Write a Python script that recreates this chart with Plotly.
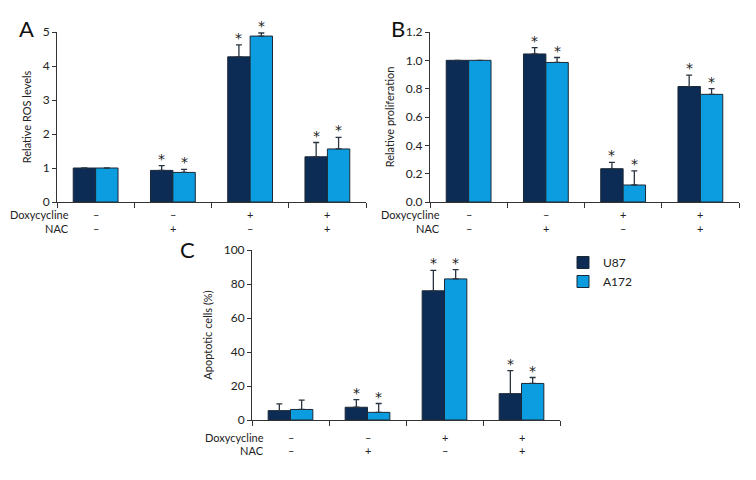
import plotly.graph_objects as go

# the page body keeps its default 8px margin, so the figure is drawn 8px in
OFF = 8
W, H = 756 - 2 * OFF, 480 - 2 * OFF
FONT = "Lato, Roboto, sans-serif"
DARK = "#0c2c55"
LIGHT = "#0b9de0"

series = ["U87", "A172"]
doxy = ["\u2013", "\u2013", "+", "+"]
nac = ["\u2013", "+", "\u2013", "+"]

# panel A - relative ROS levels
ros_u87 = [1.0, 0.93, 4.27, 1.33]
ros_u87_err = [0, 0.14, 0.35, 0.42]
ros_a172 = [1.0, 0.87, 4.88, 1.56]
ros_a172_err = [0, 0.09, 0.09, 0.34]
ros_star_u87 = [False, True, True, True]
ros_star_a172 = [False, True, True, True]

# panel B - relative proliferation
pro_u87 = [1.0, 1.045, 0.235, 0.815]
pro_u87_err = [0, 0.045, 0.045, 0.08]
pro_a172 = [1.0, 0.985, 0.12, 0.76]
pro_a172_err = [0, 0.035, 0.10, 0.04]
pro_star_u87 = [False, True, True, True]
pro_star_a172 = [False, True, True, True]

# panel C - apoptotic cells
apo_u87 = [5.5, 7.5, 76, 15.5]
apo_u87_err = [4, 4.5, 12, 13.5]
apo_a172 = [6.2, 4.5, 83, 21.5]
apo_a172_err = [5.5, 5.2, 5.5, 3.5]
apo_star_u87 = [False, True, True, True]
apo_star_a172 = [False, True, True, True]


def px_x(p):
    return (p - OFF) / W


def px_y(p):
    return 1 - (p - OFF) / H


panels = [
    dict(name="A", xd=(57, 366), yd=(32, 202), rng=[0, 5], dtick=1, fmt="d",
         title="Relative ROS levels",
         u=(ros_u87, ros_u87_err, ros_star_u87), a=(ros_a172, ros_a172_err, ros_star_a172),
         letter=(26, 28), lab_right=71, rows=(215, 229)),
    dict(name="B", xd=(430, 739), yd=(32, 202), rng=[0, 1.2], dtick=0.2, fmt=".1f",
         title="Relative proliferation",
         u=(pro_u87, pro_u87_err, pro_star_u87), a=(pro_a172, pro_a172_err, pro_star_a172),
         letter=(398, 28), lab_right=442, rows=(215, 229)),
    dict(name="C", xd=(252, 560), yd=(250, 420), rng=[0, 100], dtick=20, fmt="d",
         title="Apoptotic cells (%)",
         u=(apo_u87, apo_u87_err, apo_star_u87), a=(apo_a172, apo_a172_err, apo_star_a172),
         letter=(187, 249), lab_right=266, rows=(437, 450)),
]

fig = go.Figure()
annotations = []
xpos = list(range(4))
half = 0.145

for k, p in enumerate(panels):
    sfx = "" if k == 0 else str(k + 1)
    xa, ya = "x" + sfx, "y" + sfx
    for (vals, errs, stars), name, col, off in [
        (p["u"], "U87", DARK, -half), (p["a"], "A172", LIGHT, half)
    ]:
        fig.add_trace(go.Bar(
            x=xpos, y=vals, name=name, marker=dict(color=col, line=dict(color="#1b2836", width=1)),
            error_y=dict(type="data", array=errs, arrayminus=[0] * 4, symmetric=False,
                         color="#2a3440", thickness=1.3, width=3),
            xaxis=xa, yaxis=ya, showlegend=(k == 2), legendgroup=name,
        ))
        # significance stars sit just above the error bar cap
        for x, v, e, s in zip(xpos, vals, errs, stars):
            if s:
                annotations.append(dict(
                    text="*", x=x + off, y=v + e, xref=xa, yref=ya, xanchor="center",
                    yanchor="bottom", yshift=-3, showarrow=False,
                    font=dict(family="DejaVu Sans, sans-serif", size=14, color="#222"),
                ))

    fig.update_layout({
        "xaxis" + sfx: dict(
            domain=[px_x(p["xd"][0]), px_x(p["xd"][1])], range=[-0.5, 3.5],
            tickvals=[-0.5, 0.5, 1.5, 2.5, 3.5], showticklabels=False, ticks="outside",
            ticklen=5, tickcolor="#333", showline=True, linecolor="#333", linewidth=1,
            showgrid=False, zeroline=False, anchor=ya, fixedrange=True, automargin=False,
        ),
        "yaxis" + sfx: dict(
            domain=[px_y(p["yd"][1]), px_y(p["yd"][0])], range=p["rng"], dtick=p["dtick"],
            tickformat=p["fmt"], ticks="outside", ticklen=4, tickcolor="#333",
            showline=True, linecolor="#333", linewidth=1, showgrid=False, zeroline=False,
            anchor=xa, tickfont=dict(family=FONT, size=12, color="#222"), automargin=False,
            title=dict(text=p["title"], font=dict(family=FONT, size=11, color="#222"), standoff=8),
        ),
    })

    annotations.append(dict(
        text=p["name"], x=px_x(p["letter"][0]), y=px_y(p["letter"][1]), xref="paper", yref="paper",
        xanchor="center", yanchor="middle", showarrow=False,
        font=dict(family=FONT, size=22, color="#111"),
    ))
    for label, row, signs in [("Doxycycline", p["rows"][0], doxy), ("NAC", p["rows"][1], nac)]:
        annotations.append(dict(
            text=label, x=px_x(p["lab_right"]), y=px_y(row), xref="paper", yref="paper",
            xanchor="right", yanchor="middle", showarrow=False,
            font=dict(family=FONT, size=11, color="#222"),
        ))
        for i, s in enumerate(signs):
            annotations.append(dict(
                text=s, x=i, y=px_y(row), xref=xa, yref="paper", xanchor="center",
                yanchor="middle", showarrow=False, font=dict(family=FONT, size=11, color="#222"),
            ))

fig.update_layout(
    width=W, height=H, margin=dict(l=0, r=0, t=0, b=0),
    paper_bgcolor="white", plot_bgcolor="white",
    barmode="group", bargap=0.42, bargroupgap=0,
    font=dict(family=FONT, size=12, color="#222"),
    annotations=annotations,
    legend=dict(x=px_x(563), y=px_y(248), xanchor="left", yanchor="top",
                font=dict(family=FONT, size=12, color="#222"), itemwidth=30,
                tracegroupgap=0, bgcolor="rgba(0,0,0,0)"),
)

fig.write_html("out.html")
